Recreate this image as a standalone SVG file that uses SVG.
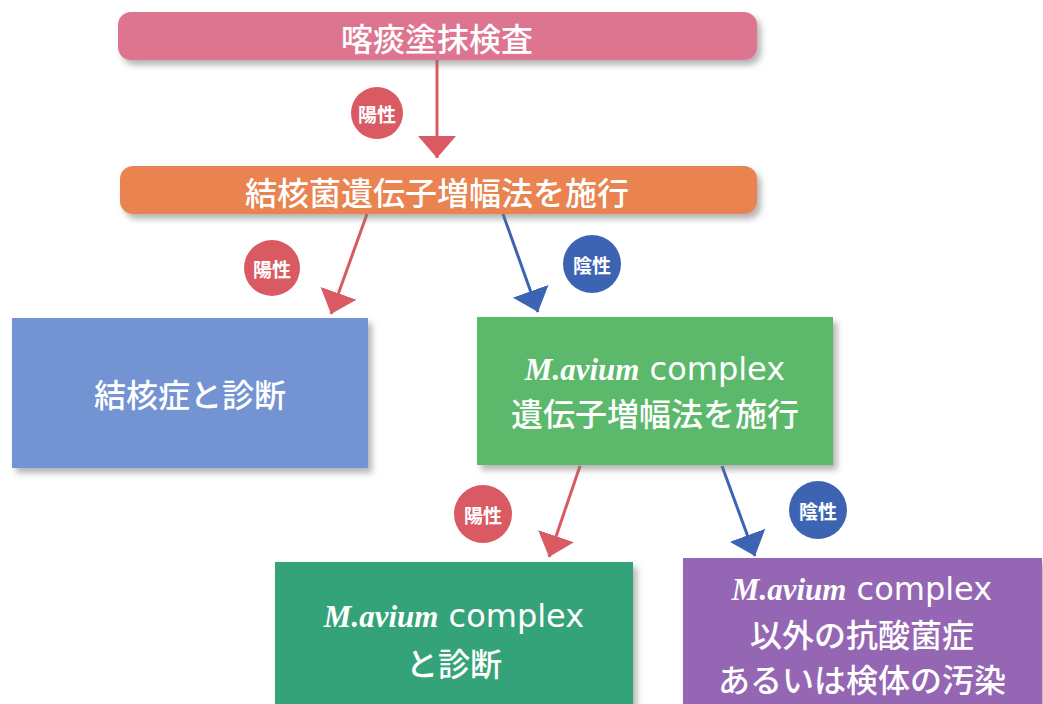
<svg xmlns="http://www.w3.org/2000/svg" width="1043" height="704" viewBox="0 0 1043 704">
<defs>
<filter id="sh" x="-10%" y="-10%" width="125%" height="130%">
<feDropShadow dx="4" dy="5" stdDeviation="3" flood-color="#777" flood-opacity="0.55"/>
</filter>
<marker id="ahR" markerUnits="userSpaceOnUse" markerWidth="22" markerHeight="38" refX="22" refY="19" orient="auto">
<path d="M0,0 L22,19 L0,38 z" fill="#d95a62"/>
</marker>
<marker id="ahB" markerUnits="userSpaceOnUse" markerWidth="22" markerHeight="38" refX="22" refY="19" orient="auto">
<path d="M0,0 L22,19 L0,38 z" fill="#3d64b3"/>
</marker>
</defs>
<style>
.jp{font-family:"Noto Sans CJK JP","Noto Sans",sans-serif;font-weight:500;fill:#fff;text-anchor:middle;dominant-baseline:central}
.big{font-size:32px}
.badge{font-size:19px;font-weight:700}
.it{font-family:"Liberation Serif",serif;font-style:italic;font-weight:700;font-size:31px}
.sn{font-family:"DejaVu Sans",sans-serif;font-weight:400;font-size:32px}
.red{stroke:#d95a62;stroke-width:3;fill:none;marker-end:url(#ahR)}
.blue{stroke:#3d64b3;stroke-width:3;fill:none;marker-end:url(#ahB)}
</style>
<rect width="1043" height="704" fill="#fff"/>

<g id="connectors">
<line class="red" x1="437" y1="60" x2="437" y2="158"/>
<line class="red" x1="367" y1="214" x2="331" y2="314"/>
<line class="blue" x1="503" y1="214" x2="538" y2="312"/>
<line class="red" x1="580" y1="466" x2="549" y2="557"/>
<line class="blue" x1="722" y1="466" x2="755" y2="556"/>
</g>

<g id="badge1"><circle cx="377" cy="113" r="26" fill="#d95a62"/><text class="jp badge" x="377" y="113">陽性</text></g>
<g id="badge2"><circle cx="272" cy="268" r="28" fill="#d95a62"/><text class="jp badge" x="272" y="268">陽性</text></g>
<g id="badge3"><circle cx="592" cy="264" r="29" fill="#3d64b3"/><text class="jp badge" x="592" y="264">陰性</text></g>
<g id="badge4"><circle cx="483" cy="514" r="29" fill="#d95a62"/><text class="jp badge" x="483" y="514">陽性</text></g>
<g id="badge5"><circle cx="818" cy="510" r="29" fill="#3d64b3"/><text class="jp badge" x="818" y="510">陰性</text></g>

<g id="n1"><rect x="118" y="12" width="639" height="48" rx="13" fill="#dd7591" filter="url(#sh)"/><text class="jp big" x="437" y="37">喀痰塗抹検査</text></g>
<g id="n2"><rect x="120" y="166" width="637" height="48" rx="13" fill="#e9834f" filter="url(#sh)"/><text class="jp big" x="437" y="191">結核菌遺伝子増幅法を施行</text></g>
<g id="n3"><rect x="12" y="318" width="356" height="150" fill="#7393d3" filter="url(#sh)"/><text class="jp big" x="190" y="393">結核症と診断</text></g>
<g id="n4"><rect x="477" y="317" width="356" height="148" fill="#5cb86a" filter="url(#sh)"/>
<text class="jp big" x="655" y="369"><tspan class="it">M.avium</tspan><tspan class="sn"> complex</tspan></text>
<text class="jp big" x="655" y="412">遺伝子増幅法を施行</text></g>
<g id="n5"><rect x="275" y="562" width="358" height="150" fill="#36a37a" filter="url(#sh)"/>
<text class="jp big" x="454" y="616"><tspan class="it">M.avium</tspan><tspan class="sn"> complex</tspan></text>
<text class="jp big" x="454" y="662">と診断</text></g>
<g id="n6"><rect x="683" y="558" width="359" height="150" fill="#9566b3" filter="url(#sh)"/>
<text class="jp big" x="862" y="589"><tspan class="it">M.avium</tspan><tspan class="sn"> complex</tspan></text>
<text class="jp big" x="862" y="633">以外の抗酸菌症</text>
<text class="jp big" x="862" y="678">あるいは検体の汚染</text></g>
</svg>
